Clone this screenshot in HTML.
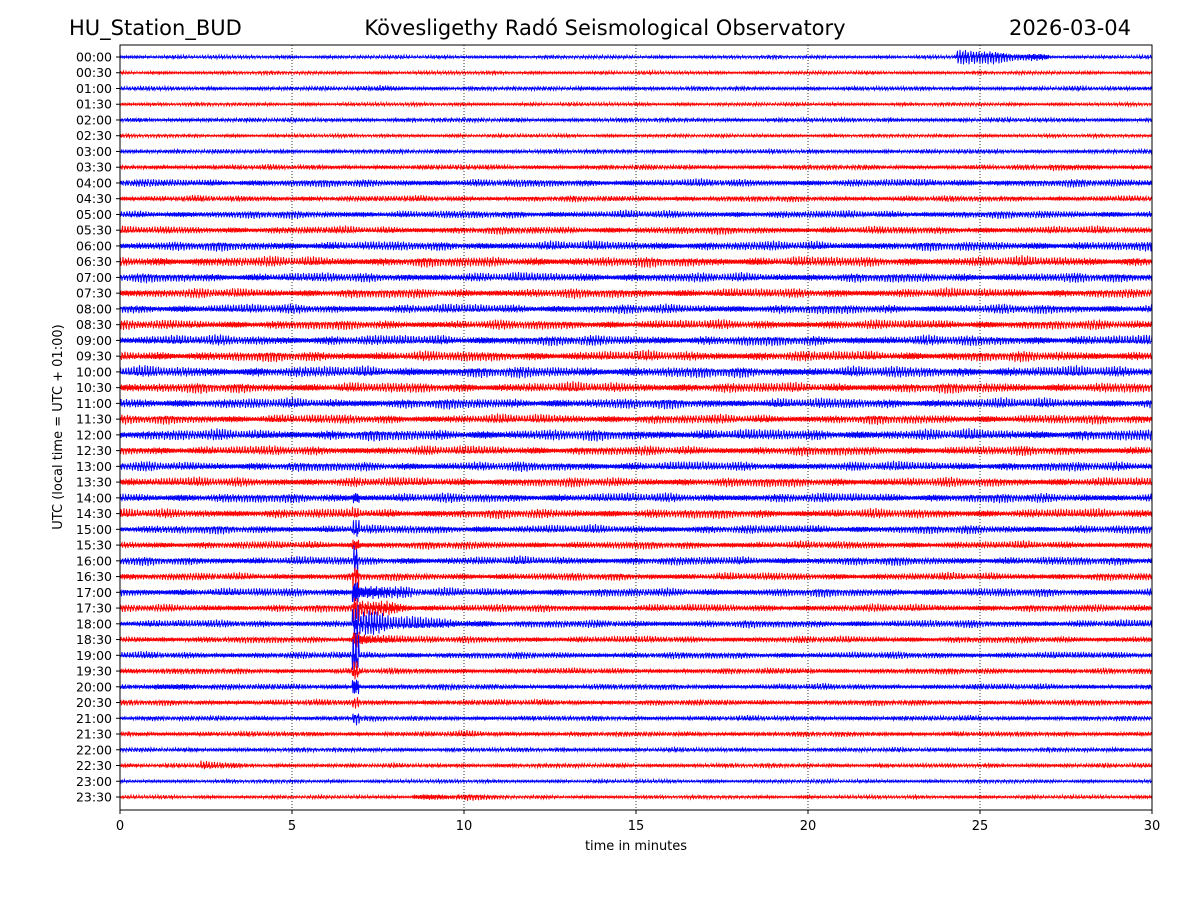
<!DOCTYPE html>
<html><head><meta charset="utf-8"><style>
body{margin:0;background:#fff;width:1200px;height:900px;overflow:hidden}
svg{font-family:"DejaVu Sans","Liberation Sans",sans-serif}
</style></head><body>
<svg id="chart" width="1200" height="900">
<text x="69" y="35" font-size="21">HU_Station_BUD</text>
<text x="605" y="35" font-size="21" text-anchor="middle">Kövesligethy Radó Seismological Observatory</text>
<text x="1131" y="35" font-size="21" text-anchor="end">2026-03-04</text>
<text x="636" y="850" font-size="13" text-anchor="middle">time in minutes</text>
<text transform="translate(62,427) rotate(-90)" font-size="13" text-anchor="middle">UTC (local time = UTC + 01:00)</text>
<g id="traces"></g>
<g id="axes"></g>
</svg>
<script>
const rowLabels=["00:00","00:30","01:00","01:30","02:00","02:30","03:00","03:30","04:00","04:30","05:00","05:30","06:00","06:30","07:00","07:30","08:00","08:30","09:00","09:30","10:00","10:30","11:00","11:30","12:00","12:30","13:00","13:30","14:00","14:30","15:00","15:30","16:00","16:30","17:00","17:30","18:00","18:30","19:00","19:30","20:00","20:30","21:00","21:30","22:00","22:30","23:00","23:30"];
const baseAmp=[2,2,2.5,2,2.5,2,2.5,3,4.5,3.5,4.5,4.5,5.5,6,5.5,5.5,5.5,5.5,6,6,6.5,6,6,5.5,6.5,5.5,5.5,5.5,5.5,5.5,5,4.5,5,4.5,5,4.5,4.5,4,4,3.5,3.5,3.5,3,3,2.5,2.5,2,2];
const eventRow=[0,2,7,36,36,34,35,37,40,45,47,47,21,43];
const eventStart=[24.3,7.5,27,6.8,8.5,6.8,6.8,6.8,1,2.3,8.5,10,9.5,9.5];
const eventEnd=[27,8.5,30,8.5,11,8.5,8.5,8.5,3.5,3.5,11,11,10.5,14];
const eventAmp=[10,5,5,16,9,14,14,10,6,6,5,5,5,4];
const quakeRows=[27,28,29,30,31,32,33,34,35,36,37,38,39,40,41,42];
const quakeAmp=[6,12,8,16,10,22,14,28,18,30,14,28,12,20,8,10];
const quakeMin=6.85;
const xTicks=[0,5,10,15,20,25,30];

const X0=120,X1=1152,Y0=45,Y1=810,R0=57,R1=797;
const xs=m=>X0+(X1-X0)*m/30;
const ys=r=>R0+(R1-R0)*r/47;
const NS="http://www.w3.org/2000/svg";
const tg=document.getElementById('traces'),ag=document.getElementById('axes');
function mk(t,a,p){const e=document.createElementNS(NS,t);for(const k in a)e.setAttribute(k,a[k]);p.appendChild(e);return e;}

for(let r=0;r<rowLabels.length;r++){
  const y0=ys(r);let pts=[];
  for(let px=0;px<=X1-X0;px+=0.5){
    const m=px*30/(X1-X0);
    let a=baseAmp[r];
    for(let k=0;k<eventRow.length;k++){
      if(eventRow[k]===r&&m>=eventStart[k]&&m<=eventEnd[k]){
        const f=1-(m-eventStart[k])/(eventEnd[k]-eventStart[k])*0.5;
        a=Math.max(a,eventAmp[k]*f);
      }
    }
    const qi=quakeRows.indexOf(r);
    if(qi>=0&&Math.abs(m-quakeMin)<0.1)a=Math.max(a,quakeAmp[qi]);
    const i=px*2;
    const w=Math.sin(i*2.31+r*1.7)*0.55+Math.sin(i*5.13+r*0.9)*0.3+Math.sin(i*1.17+r*3.3)*0.25;
    const env=0.8+0.2*Math.sin(i*0.071+r*2.1)*Math.sin(i*0.013+r);
    pts.push((X0+px).toFixed(1)+","+(y0+a*w*env).toFixed(1));
  }
  const pl=mk('polyline',{points:pts.join(' '),fill:'none',stroke:r%2?'#ff0000':'#0000ff','stroke-width':1},tg);
  
  
  const t=mk('text',{x:X0-8,y:y0+4.5,'font-size':12.5,'text-anchor':'end'},ag);
  t.textContent=rowLabels[r];
  
  
  mk('line',{x1:X0-4,x2:X0,y1:y0,y2:y0,stroke:'#000'},ag);
}
xTicks.forEach(v=>{
  const x=xs(v);
  if(v>0&&v<30){const g=mk('line',{x1:x,x2:x,y1:Y0,y2:Y1,stroke:'#000','stroke-width':0.8,'stroke-dasharray':'1,2'},ag);
  
  }
  mk('line',{x1:x,x2:x,y1:Y1,y2:Y1+4,stroke:'#000'},ag);
  const t=mk('text',{x:x,y:Y1+20,'font-size':13,'text-anchor':'middle'},ag);
  t.textContent=v;
  
  
});
const fr=mk('rect',{x:X0,y:Y0,width:X1-X0,height:Y1-Y0,fill:'none',stroke:'#000','stroke-width':1},ag);


</script>
</body></html>
